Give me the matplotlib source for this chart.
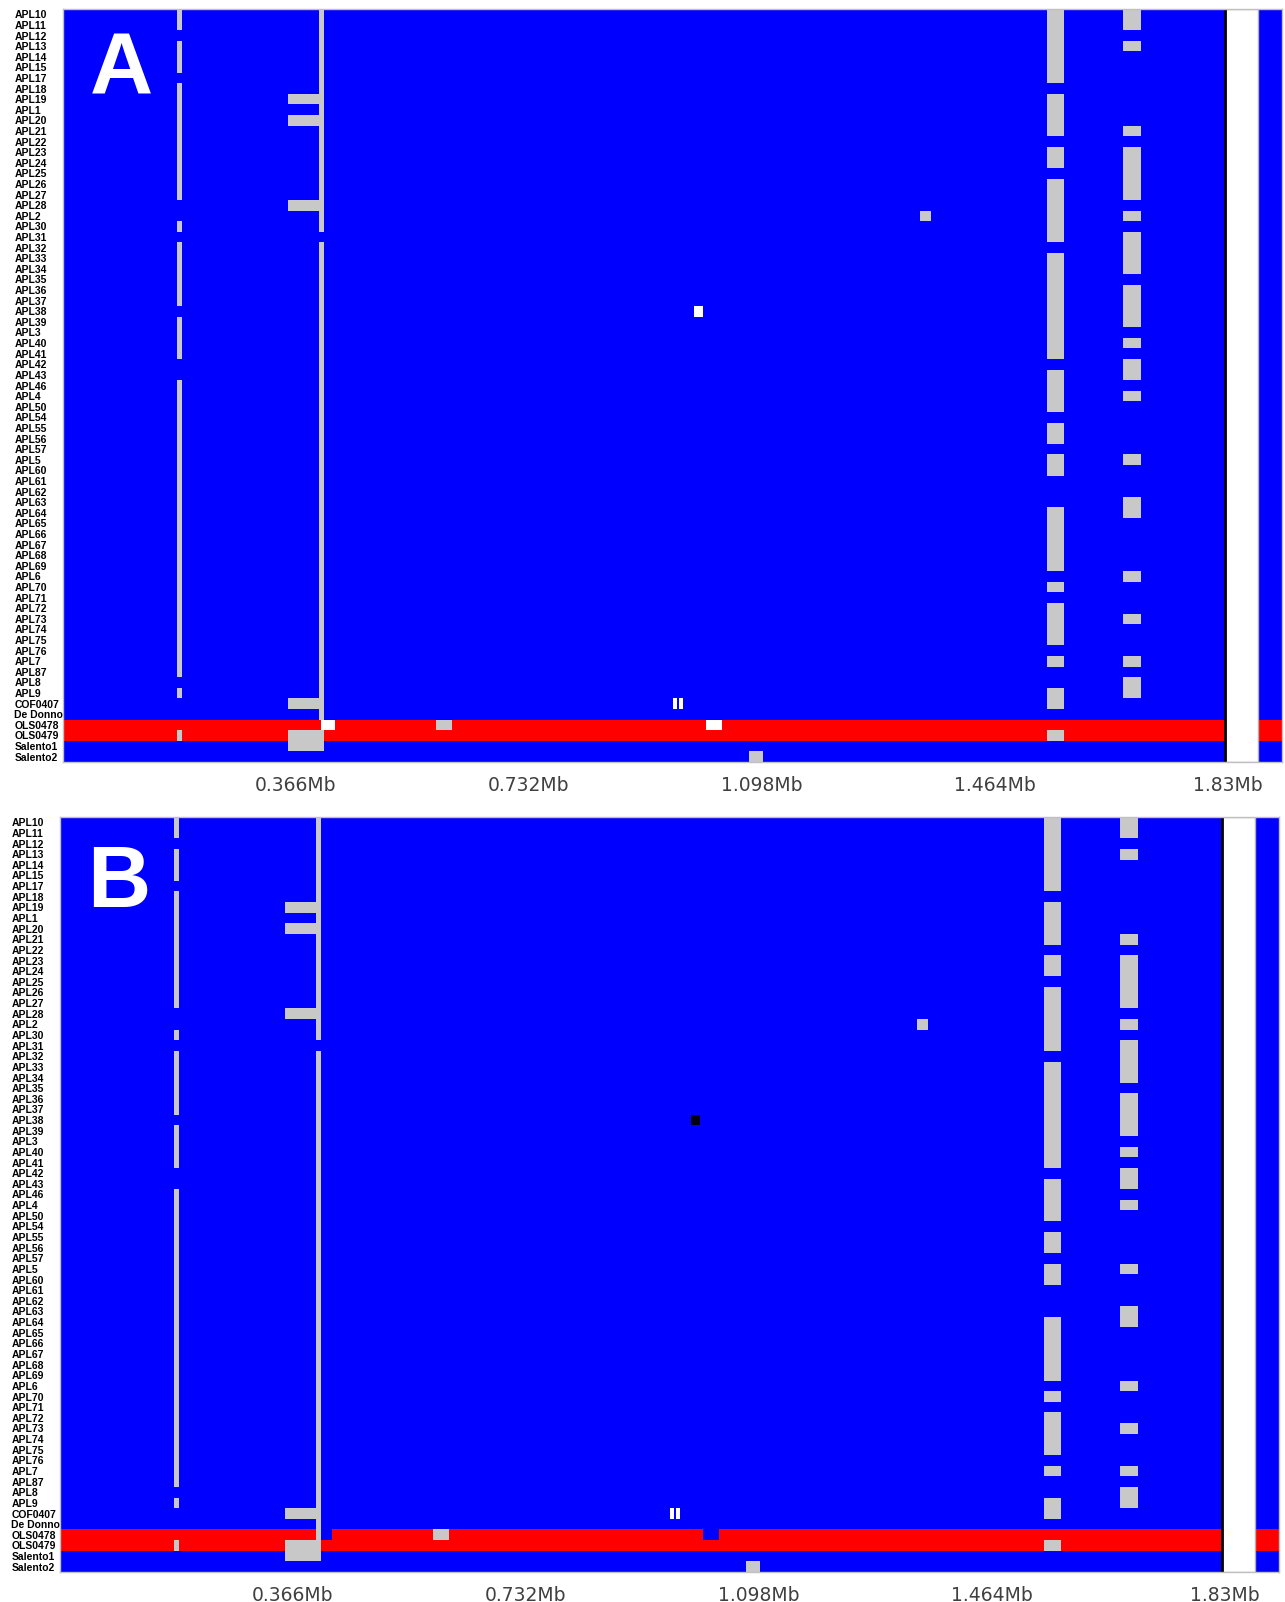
import matplotlib.pyplot as plt

# sample names, top to bottom
strains = ['APL10', 'APL11', 'APL12', 'APL13', 'APL14', 'APL15', 'APL17', 'APL18',
           'APL19', 'APL1', 'APL20', 'APL21', 'APL22', 'APL23', 'APL24', 'APL25',
           'APL26', 'APL27', 'APL28', 'APL2', 'APL30', 'APL31', 'APL32', 'APL33',
           'APL34', 'APL35', 'APL36', 'APL37', 'APL38', 'APL39', 'APL3', 'APL40',
           'APL41', 'APL42', 'APL43', 'APL46', 'APL4', 'APL50', 'APL54', 'APL55',
           'APL56', 'APL57', 'APL5', 'APL60', 'APL61', 'APL62', 'APL63', 'APL64',
           'APL65', 'APL66', 'APL67', 'APL68', 'APL69', 'APL6', 'APL70', 'APL71',
           'APL72', 'APL73', 'APL74', 'APL75', 'APL76', 'APL7', 'APL87', 'APL8',
           'APL9', 'COF0407', 'De Donno', 'OLS0478', 'OLS0479', 'Salento1', 'Salento2']

genome_len = 1.915          # Mb
tick_pos = [0.366, 0.732, 1.098, 1.464, 1.83]
tick_labels = ['0.366Mb', '0.732Mb', '1.098Mb', '1.464Mb', '1.83Mb']

ref_rows = [67, 68]         # OLS0478 / OLS0479 (reference strains)

# gray blocks: (x start, x end) in Mb and runs of rows (first, last)
col1_x = (0.179, 0.187)
col1_rows = [(0, 1), (3, 5), (7, 17), (20, 20), (22, 27), (29, 32), (35, 62), (64, 64), (68, 68)]

col2_x = (0.402, 0.410)
col2_rows_a = [(0, 20), (22, 66)]
col2_rows_b = [(0, 20), (22, 67)]
col2_wide_x = (0.353, 0.410)
col2_wide_rows = [(8, 8), (10, 10), (18, 18), (65, 65), (68, 69)]

col9_x = (1.546, 1.572)
col9_rows = [(0, 6), (8, 11), (13, 14), (16, 21), (23, 32), (34, 37), (39, 40), (42, 43),
             (47, 52), (54, 54), (56, 59), (61, 61), (64, 65), (68, 68)]

col10_x = (1.665, 1.693)
col10_rows = [(0, 1), (3, 3), (11, 11), (13, 17), (19, 19), (21, 24), (26, 29), (31, 31),
              (33, 34), (36, 36), (42, 42), (46, 47), (53, 53), (57, 57), (61, 61), (63, 64)]

# single cells: (x start, x end, row)
gray_cells = [(0.586, 0.611, 67), (1.078, 1.100, 70), (1.346, 1.363, 19)]
white_cells_a = [(0.405, 0.427, 67), (1.010, 1.035, 67), (0.991, 1.005, 28), (0.958, 0.974, 65)]
white_cells_b = [(0.958, 0.974, 65)]
blue_cells_a = [(0.964, 0.968, 65)]
blue_cells_b = [(0.405, 0.427, 67), (1.010, 1.035, 67), (0.964, 0.968, 65)]
black_cells_b = [(0.991, 1.005, 28)]

gap_x = (1.826, 1.877)      # region without data

BLUE = '#0000ff'
RED = '#ff0000'
GRAY = '#c8c8c8'


def runs(ax, x, rows, color):
    for r0, r1 in rows:
        ax.broken_barh([(x[0], x[1] - x[0])], (r0 - 0.5, r1 - r0 + 1),
                       facecolor=color, linewidth=0)


def cells(ax, items, color):
    for x0, x1, r in items:
        ax.broken_barh([(x0, x1 - x0)], (r - 0.5, 1), facecolor=color, linewidth=0)


def panel(ax, letter, col2_rows, whites, blues, blacks):
    n = len(strains)
    ax.broken_barh([(0, genome_len)], (-0.5, n), facecolor=BLUE, linewidth=0)
    for r in ref_rows:
        ax.broken_barh([(0, genome_len)], (r - 0.5, 1), facecolor=RED, linewidth=0)

    runs(ax, col1_x, col1_rows, GRAY)
    runs(ax, col2_x, col2_rows, GRAY)
    runs(ax, col2_wide_x, col2_wide_rows, GRAY)
    runs(ax, col9_x, col9_rows, GRAY)
    runs(ax, col10_x, col10_rows, GRAY)
    cells(ax, gray_cells, GRAY)
    cells(ax, whites, 'white')
    cells(ax, blues, BLUE)
    cells(ax, blacks, '#000010')
    # repaint the gray line over the notch in panel B
    runs(ax, col2_x, [r for r in col2_rows if r[1] >= 67], GRAY)

    ax.broken_barh([(gap_x[0], gap_x[1] - gap_x[0])], (-0.5, n),
                   facecolor='white', edgecolor='#b0b0b0', linewidth=1)
    ax.axvline(gap_x[0], color='black', lw=2)

    ax.set_xlim(0, genome_len)
    ax.set_ylim(n - 0.5, -0.5)
    ax.set_yticks(range(n), strains)
    ax.tick_params(axis='y', length=0, pad=35)
    for lbl in ax.get_yticklabels():
        lbl.set_ha('left')
        lbl.set_fontfamily('Liberation Sans')
        lbl.set_fontweight('bold')
        lbl.set_fontsize(7.5)
    ax.set_xticks(tick_pos, tick_labels)
    ax.tick_params(axis='x', length=0, pad=10, labelsize=13.5, labelcolor='#404040')
    for s in ax.spines.values():
        s.set_color('#c0c0c0')
        s.set_linewidth(1)

    ax.text(0.022, 0.888 if letter == 'A' else 0.881, letter, transform=ax.transAxes,
            color='white', fontsize=63, fontweight='bold', family='Liberation Sans',
            ha='left', va='baseline')


fig = plt.figure(figsize=(12.85, 16.02), dpi=100)
ax1 = fig.add_axes([0.04903, 0.52434, 0.94864, 0.47004])
ax2 = fig.add_axes([0.04669, 0.01873, 0.94864, 0.47129])

panel(ax1, 'A', col2_rows_a, white_cells_a, blue_cells_a, [])
panel(ax2, 'B', col2_rows_b, white_cells_b, blue_cells_b, black_cells_b)

plt.savefig('out.png', dpi=100)
